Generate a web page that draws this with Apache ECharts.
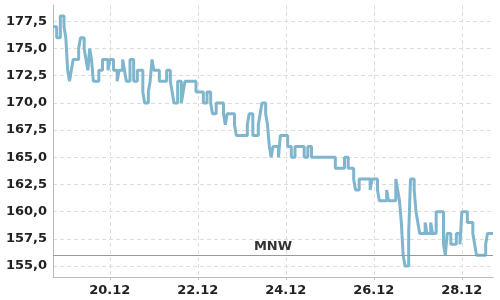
<!DOCTYPE html>
<html><head><meta charset="utf-8">
<script src="https://cdn.jsdelivr.net/npm/echarts@6/dist/echarts.min.js"></script>
<style>html,body{margin:0;padding:0;background:#fff}#c{width:500px;height:300px}</style>
</head><body><div id="c"></div>
<script>
// hours after 18.12 17:00 at which the level changes, and the new level
const hours = [0,2,4,6,7,8,9,10,11,14,15,17,18,19,20,21,22,25,27,30,31,33,35,36,38,39,40,42,44,46,49,50,52,53,54,55,58,62,64,65,66,68,70,71,72,78,82,84,86,87,89,93,94,95,99,100,106,107,109,112,113,114,116,117,118,119,120,123,124,128,130,132,137,139,141,154,159,161,164,165,167,173,174,177,178,182,183,187,188,189,190,191,192,194,195,197,198,199,200,203,204,206,207,209,213,214,215,217,220,222,223,226,229,230,231,236,237,240];
const levels = [177,176,178,177,176,173,172,173,174,175,176,175,174,173,175,174,172,173,174,173,174,173,172,173,174,173,172,174,172,173,171,170,171,172,174,173,172,173,172,171,170,172,170,171,172,171,170,171,170,169,170,169,168,169,168,167,168,169,167,168,169,170,169,168,166,165,166,165,167,166,165,166,165,166,165,164,165,164,163,162,163,162,163,162,161,162,161,163,162,161,159,156,155,158,163,162,160,159,158,159,158,159,158,160,157,156,158,157,158,157,160,159,158,157,156,157,158,158];
const tickHours = [31,79,127,175,223];
const tickLabels = ['20.12','22.12','24.12','26.12','28.12'];
const yTicks = [155,157.5,160,162.5,165,167.5,170,172.5,175,177.5];
const mnw = 156;
const mnwLabel = 'MNW';

const data = hours.map((h,i)=>[h, levels[i]]);
const chart = echarts.init(document.getElementById('c'), null, {renderer:'canvas'});
const font = {fontFamily:'DejaVu Sans', fontSize:13, fontWeight:'bold', color:'#222'};
chart.setOption({
  animation:false,
  grid:{left:53,right:7,top:5,bottom:23},
  xAxis:{type:'value',min:0,max:240,
    axisLine:{lineStyle:{color:'#bbb'}},
    axisTick:{show:true,length:3,lineStyle:{color:'#bbb'},customValues:tickHours},
    axisLabel:Object.assign({customValues:tickHours,margin:7,
      formatter:v=>{const i=tickHours.indexOf(v);return i>=0?tickLabels[i]:'';}},font),
    splitLine:{show:true,lineStyle:{color:'#ddd',type:[4,3]}}
  },
  yAxis:{type:'value',min:154,max:179,
    axisLine:{show:true,lineStyle:{color:'#bbb'}},
    axisTick:{show:false,customValues:yTicks},
    axisLabel:Object.assign({customValues:yTicks,margin:6,
      formatter:v=>v.toFixed(1).replace('.',',')},font),
    splitLine:{show:true,lineStyle:{color:'#ddd',type:[4,3]}}
  },
  series:[{type:'line',step:'end',data:data,showSymbol:false,
    lineStyle:{color:'#7fb6ce',width:3},
    markLine:{silent:true,symbol:'none',
      lineStyle:{color:'#999',width:1,type:'solid'},
      label:{formatter:mnwLabel,position:'insideMiddleTop',distance:2,fontFamily:'DejaVu Sans',fontSize:13,fontWeight:'bold',color:'#333'},
      data:[{yAxis:mnw}]}
  }]
});
</script></body></html>
